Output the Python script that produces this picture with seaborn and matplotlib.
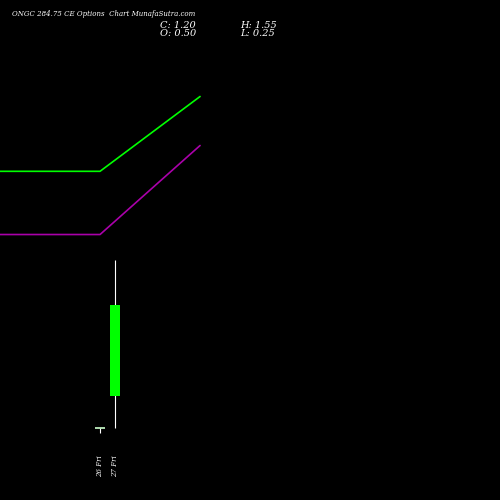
import matplotlib
matplotlib.use("Agg")
import matplotlib.pyplot as plt
import seaborn as sns
import pandas as pd

dates = ["26 Fri", "27 Fri"]
opens = [0.25, 0.50]
highs = [0.25, 1.55]
lows = [0.21, 0.25]
closes = [0.25, 1.20]
ma_x = [-6.67, 0, 6.67]
ma_fast = [2.24, 2.24, 2.82]
ma_slow = [1.75, 1.75, 2.44]

sns.set_style("dark", {"axes.facecolor": "black", "figure.facecolor": "black"})
fig = plt.figure(figsize=(5, 5), dpi=100, facecolor="black")
ax = fig.add_axes([0, 0, 1, 1])
ax.set_facecolor("black")
df = pd.DataFrame({"x": ma_x * 2, "y": ma_fast + ma_slow, "s": ["f"] * 3 + ["s"] * 3})
sns.lineplot(data=df, x="x", y="y", hue="s", palette={"f": "#00ff00", "s": "#aa00aa"},
             legend=False, ax=ax, linewidth=1.2)
for i in range(len(dates)):
    up = closes[i] > opens[i]
    ax.vlines(i, lows[i], highs[i], color="white", linewidth=0.8)
    if up:
        ax.bar(i, closes[i] - opens[i], bottom=opens[i], width=0.65, color="#00ff00",
               edgecolor="none", linewidth=0, zorder=3)
    else:
        ax.hlines(opens[i], i - 0.33, i + 0.33, color="#ccffcc", linewidth=1.2)
    ax.text(i, 0.04, dates[i], rotation=90, color="white", fontsize=5, ha="center", va="top",
            family="DejaVu Serif", style="italic")
ax.set_xlim(-6.67, 26.67)
ax.set_ylim(-0.308, 3.568)
ax.axis("off")
fig.text(0.024, 0.972, "ONGC 284.75 CE Options  Chart MunafaSutra.com", color="white", fontsize=5,
         family="DejaVu Serif", style="italic", va="center")
fig.text(0.32, 0.95, "C: 1.20", color="white", fontsize=7, family="DejaVu Serif", style="italic", va="center")
fig.text(0.32, 0.933, "O: 0.50", color="white", fontsize=7, family="DejaVu Serif", style="italic", va="center")
fig.text(0.48, 0.95, "H: 1.55", color="white", fontsize=7, family="DejaVu Serif", style="italic", va="center")
fig.text(0.48, 0.933, "L: 0.25", color="white", fontsize=7, family="DejaVu Serif", style="italic", va="center")
fig.savefig("out.png", dpi=100, facecolor="black")
